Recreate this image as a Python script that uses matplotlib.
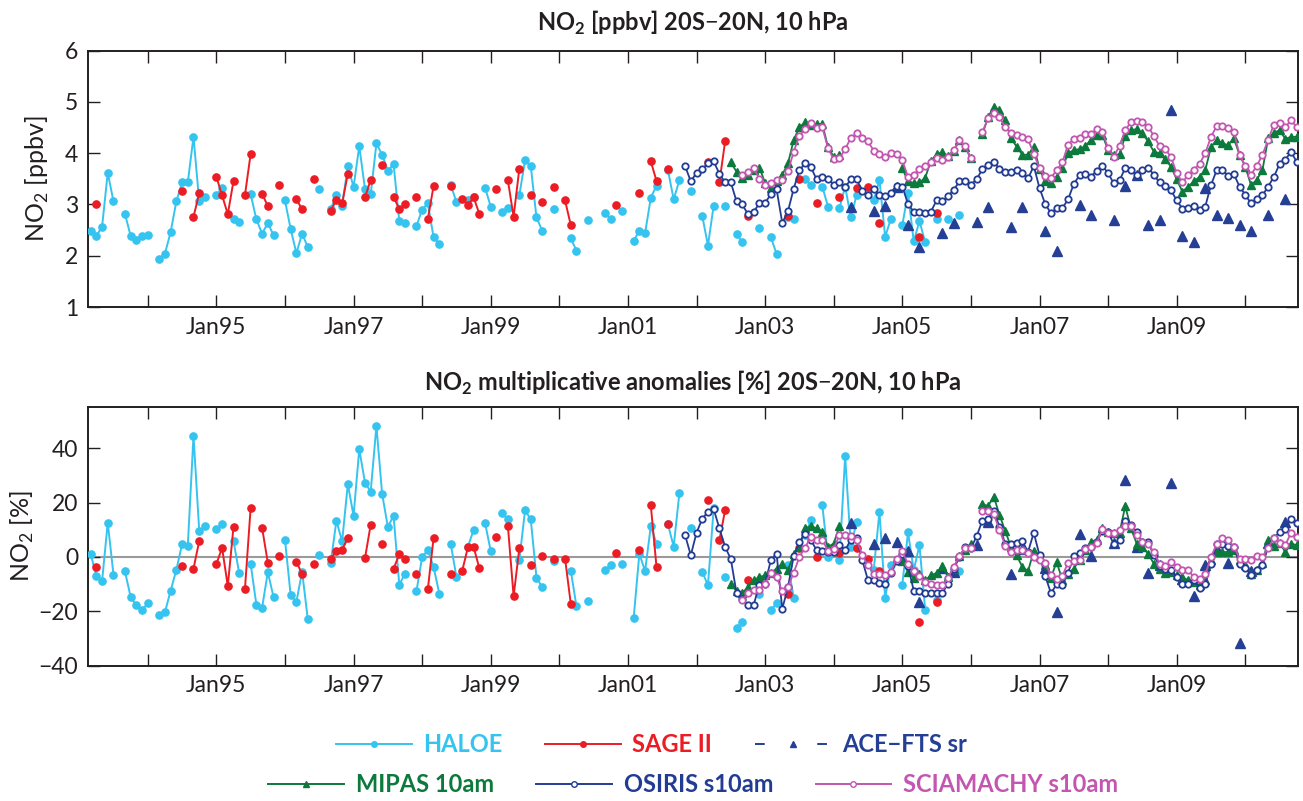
import numpy as np
import matplotlib
matplotlib.use("Agg")
import matplotlib.pyplot as plt
from matplotlib.lines import Line2D

nan = np.nan

# months are counted from Jan 1993 (0 = Jan93)
haloe_months = [2, 3, 4, 5, 6, 8, 9, 10, 11, 12,
                14, 15, 16, 17, 18, 19, 20, 21, 22, 24,
                25, 27, 28, 30, 31, 32, 33, 34, 36, 37,
                38, 39, 40, 42, 44, 45, 46, 47, 48, 49,
                50, 51, 52, 53, 54, 55, 56, 57, 59, 60,
                61, 62, 63, 65, 66, 68, 69, 71, 72, 74,
                75, 77, 78, 79, 80, 81, 83, 86, 87, 89,
                92, 93, 95, 97, 98, 99, 100, 101, 103, 104,
                105, 107, 109, 110, 111, 113, 115, 116, 119, 121,
                122, 124, 125, 127, 128, 130, 131, 133, 134, 135,
                136, 139, 140, 141, 142, 144, 145, 146, 147, 148,
                150, 152, 154]
haloe_ppbv = [2.49, 2.39, 2.56, 3.62, 3.06, 2.82, 2.39, 2.30, 2.38, 2.40,
              1.93, 2.04, 2.46, 3.06, 3.43, 3.43, 4.32, 3.06, 3.14, 3.18,
              3.33, 2.72, 2.65, 3.20, 2.71, 2.43, 2.64, 2.40, 3.08, 2.52,
              2.05, 2.43, 2.17, 3.30, 2.91, 3.18, 2.98, 3.75, 3.34, 4.14,
              3.30, 3.20, 4.19, 3.97, 3.66, 3.79, 2.68, 2.63, 2.58, 2.90,
              3.02, 2.36, 2.23, 3.39, 3.04, 3.09, 3.15, 3.33, 2.96, 2.86,
              2.93, 3.18, 3.86, 3.75, 2.75, 2.49, 2.91, 2.34, 2.10, 2.69,
              2.84, 2.71, 2.88, 2.29, 2.49, 2.44, 3.13, 3.37, 3.67, 3.10,
              3.47, 3.27, 2.78, 2.20, 2.98, 2.97, 2.43, 2.26, 2.55, 2.36,
              2.04, 2.75, 2.72, 3.49, 3.38, 3.35, 2.96, 2.93, 3.35, 2.75,
              3.18, 3.08, 3.48, 2.37, 2.72, 2.60, 3.22, 2.28, 2.68, 2.26,
              2.72, 2.72, 2.80]
haloe_anom = [1.2, -7.0, -9.0, 12.6, -6.5, -5.2, -14.7, -17.8, -19.7, -17.0,
              -21.5, -20.4, -12.4, -4.8, 4.7, 4.0, 44.5, 9.6, 11.2, 10.1,
              12.2, 5.8, -6.0, -2.6, -17.6, -18.7, -5.6, -14.7, 6.4, -14.1,
              -16.5, -5.4, -23.0, 0.6, -2.3, 13.3, 5.7, 26.8, 15.1, 39.6,
              27.3, 24.0, 48.2, 23.1, 11.1, 15.1, -10.2, -6.1, -12.7, 0.0,
              2.5, -3.7, -13.5, 4.8, -7.4, 3.7, 9.9, 12.6, 2.1, 16.0,
              13.8, -1.2, 17.1, 13.8, -7.6, -11.1, -1.5, -5.0, -18.2, -16.3,
              -4.8, -3.1, -2.5, -22.5, 1.2, -5.2, 11.3, 4.9, 12.0, 3.8,
              23.4, 10.5, -5.5, -10.4, 17.8, -7.4, -26.2, -24.0, -13.5, -19.7,
              -17.0, -3.0, -15.0, 8.0, 13.5, 19.1, 0.0, -1.0, 37.1, 3.7,
              12.9, -4.9, 16.6, -15.1, -3.1, -10.2, 9.0, -4.9, 4.3, -19.4,
              -16.0, -8.0, -5.0]

sage_months = [3, 18, 20, 21, 24, 25, 26, 27, 29, 30,
               32, 33, 35, 38, 39, 41, 44, 45, 46, 47,
               50, 51, 53, 55, 56, 57, 59, 61, 62, 65,
               67, 68, 69, 70, 73, 75, 76, 77, 79, 81,
               83, 85, 86, 94, 98, 100, 101, 103, 110, 112,
               113, 117, 124, 126, 129, 133, 136, 138, 140, 147,
               150]
sage_ppbv = [3.00, 3.27, 2.76, 3.22, 3.54, 3.18, 2.81, 3.46, 3.18, 3.99,
             3.21, 2.97, 3.39, 3.10, 2.91, 3.49, 2.88, 3.09, 3.02, 3.60,
             3.14, 3.48, 3.77, 3.15, 2.91, 3.01, 3.15, 2.72, 3.36, 3.36,
             3.11, 2.99, 3.14, 2.82, 3.31, 3.47, 2.76, 3.70, 3.19, 3.04,
             3.35, 3.08, 2.60, 2.99, 3.22, 3.84, 3.46, 3.69, 3.83, 3.43,
             4.23, 2.77, 2.78, 3.49, 3.02, 3.14, 3.32, 3.35, 2.63, 2.36,
             2.83]
sage_anom = [-3.7, -3.3, -4.3, 5.8, -2.6, 3.3, -10.7, 11.1, -11.8, 18.1,
             10.7, -2.1, 0.2, -1.7, -6.4, -2.7, -0.7, 2.1, 2.6, 7.0,
             -0.5, 11.9, 4.6, -4.3, 0.9, -0.6, -6.3, -11.8, 7.0, -6.3,
             -5.2, 3.5, 3.7, -4.1, 7.3, 11.3, -14.4, 3.1, -2.8, 0.5,
             -0.6, -0.6, -17.2, 1.6, 2.6, 19.0, -3.7, 12.1, 21.0, 6.1,
             17.2, -8.6, -13.5, 3.1, -0.2, 1.5, 3.1, -0.6, -5.0, -24.0,
             -16.4]

ace_months = [135, 139, 141, 143, 145, 147, 151, 153, 157, 159, 163,
              165, 169, 171, 175, 177, 181, 183, 185, 187, 189,
              191, 193, 195, 197, 199, 201, 203, 205, 208, 211]
ace_ppbv = [2.96, 2.88, 2.97, 3.35, 2.60, 2.18, 2.44, 2.63, 2.65, 2.96, 2.57,
            2.96, 2.49, 2.10, 2.99, 2.80, 2.70, 3.36, 3.58, 2.60, 2.70,
            4.84, 2.39, 2.26, 3.32, 2.80, 2.73, 2.60, 2.49, 2.80, 3.10]
ace_anom = [12.6, 4.6, 7.0, 5.3, 2.1, -16.6, -4.0, -5.5, 4.3, 12.9, -6.4,
            3.0, -4.0, -20.3, 8.4, 0.3, 5.0, 28.1, 3.7, -5.9, -3.0,
            27.3, -8.0, -14.4, -3.1, 3.0, -2.2, -31.7, -5.0, 5.0, 12.9]

# monthly series, first month given, nan = no data
mipas_start = 114
mipas_ppbv = [3.82, 3.64, 3.52, 3.58, 3.68, 3.72, 3.42, 3.33, 3.45, 3.58,
              3.80, 4.26, 4.51, 4.60, 4.56, 4.57, 4.57, 4.12, 3.93, 3.96,
              nan, nan, nan, nan, nan, nan, nan, nan, nan, nan,
              3.71, 3.45, 3.42, 3.43, 3.52, 3.85, 3.98, 4.02, 3.95, 4.05,
              4.25, 4.12, 3.90, nan, 4.37, 4.70, 4.91, 4.84, 4.65, 4.29,
              4.13, 3.97, 3.97, 4.12, 3.70, 3.45, 3.41, 3.54, 3.71, 4.00,
              4.06, 4.08, 4.14, 4.26, 4.36, 4.36, 4.06, 3.97, 3.98, 4.34,
              4.45, 4.47, 4.39, 4.23, 4.03, 4.00, 3.88, 3.74, 3.49, 3.25,
              3.35, 3.45, 3.54, 3.67, 4.12, 4.26, 4.19, 4.16, 4.29, 3.97,
              3.74, 3.38, 3.48, 3.67, 4.29, 4.40, 4.45, 4.28, 4.32, 4.32]
mipas_anom = [-9.8, -12.7, -13.3, -11.1, -8.6, -7.4, -6.8, -5.8, -4.3, -2.5,
              -4.9, 1.0, 3.7, 10.5, 11.3, 10.5, 9.2, 3.7, 4.9, 11.3,
              nan, nan, nan, nan, nan, nan, nan, nan, nan, nan,
              -1.5, -5.5, -7.7, -6.1, -8.6, -6.8, -5.9, -3.4, -7.4, -4.3,
              0.3, 2.7, 4.9, nan, 19.4, 18.7, 22.2, 15.4, 9.6, 3.7,
              0.6, -3.7, -5.2, 2.2, 0.0, -3.1, -7.6, -1.8, -8.6, -6.1,
              -4.3, -1.0, 2.5, 5.5, 6.4, 10.5, 9.2, 8.9, 8.9, 18.7,
              10.5, 4.9, 3.7, 1.2, -2.5, -4.3, -5.9, -5.5, -6.8, -7.4,
              -8.6, -9.2, -10.4, -8.6, -1.0, 1.8, 1.8, 1.8, 2.7, -1.2,
              -3.1, -6.1, -4.9, -2.2, 6.2, 4.0, 5.2, 1.8, 4.9, 4.3]

osiris_start = 106
osiris_ppbv = [3.75, 3.45, 3.62, 3.70, 3.80, 3.84, 3.60, 3.43, 3.43, 3.06,
               3.00, 2.81, 2.86, 3.02, 3.03, 3.20, 3.30, 2.64, 2.87, 3.31,
               3.67, 3.80, 3.73, 3.49, 3.54, 3.50, 3.39, 3.44, 3.34, 3.49,
               3.49, 3.27, 3.18, 3.30, 3.18, 3.17, 3.23, 3.37, 3.35, 3.01,
               2.86, 2.86, 2.84, 2.86, 3.08, 3.06, 3.16, 3.29, 3.45, 3.45,
               3.39, 3.49, 3.69, 3.78, 3.82, 3.70, 3.64, 3.64, 3.67, 3.61,
               3.51, 3.75, 3.32, 3.01, 2.83, 2.93, 2.93, 3.10, 3.40, 3.57,
               3.60, 3.54, 3.66, 3.76, 3.61, 3.41, 3.47, 3.71, 3.67, 3.58,
               3.68, 3.72, 3.58, 3.43, 3.36, 3.28, 3.08, 2.92, 2.94, 2.98,
               2.90, 2.96, 3.38, 3.67, 3.67, 3.56, 3.59, 3.35, 3.19, 3.02,
               3.10, 3.18, 3.35, 3.54, 3.79, 3.87, 4.03, 3.83]
osiris_anom = [8.0, 0.6, 8.9, 14.0, 16.6, 17.6, 10.5, 3.7, -0.8, -13.3,
               -15.4, -17.6, -17.6, -10.2, -9.8, -1.2, 1.2, -19.1, -11.1, 0.3,
               5.6, 8.4, 6.2, 2.5, 2.1, 1.9, 1.9, 4.3, 2.4, 6.4,
               6.8, -1.2, -8.6, -8.4, -9.5, -9.8, -5.9, -1.5, 1.0, -3.4,
               -12.4, -12.4, -13.3, -13.3, -13.3, -13.3, -9.8, -4.3, 0.0, 3.7,
               3.1, 7.6, 13.3, 14.1, 16.9, 11.1, 4.9, 4.7, 5.2, 5.7,
               1.9, 8.9, 0.6, -7.0, -13.3, -10.1, -10.4, -5.9, 0.4, 1.5,
               3.1, 3.7, 5.3, 9.6, 9.0, 4.7, 6.4, 13.3, 11.8, 9.2,
               5.5, 5.5, 0.6, -3.4, -4.3, -4.7, -7.4, -9.8, -9.8, -8.6,
               -11.4, -10.1, -2.5, 4.7, 4.7, 4.1, 3.7, -2.5, -4.1, -6.5,
               -4.7, -3.1, 3.7, 7.1, 9.0, 10.2, 14.1, 12.3]

scia_start = 116
scia_ppbv = [3.57, 3.63, 3.71, 3.50, 3.39, 3.41, 3.47, 3.47, 3.65, 4.03,
             4.34, 4.47, 4.58, 4.50, 4.51, 4.10, 3.88, 3.90, 4.08, 4.30,
             4.39, 4.30, 4.23, 4.05, 3.98, 3.92, 4.01, 3.99, 3.86, 3.54,
             3.58, 3.69, 3.76, 3.83, 3.90, 3.87, 3.93, 4.06, 4.25, 4.14,
             3.90, nan, 4.41, 4.68, 4.79, 4.70, 4.51, 4.40, 4.36, 4.32,
             4.27, 3.99, 3.71, 3.55, 3.52, 3.67, 3.82, 4.17, 4.28, 4.29,
             4.37, 4.38, 4.47, 4.41, 4.10, 3.93, 4.15, 4.45, 4.61, 4.63,
             4.60, 4.52, 4.34, 4.14, 4.08, 3.93, 3.61, 3.43, 3.58, 3.68,
             3.79, 4.00, 4.32, 4.53, 4.53, 4.50, 4.41, 3.97, 3.75, 3.58,
             3.75, 3.97, 4.26, 4.56, 4.58, 4.51, 4.64, 4.51]
scia_anom = [-16.0, -13.3, -12.0, -12.3, -9.8, -5.8, -7.4, -12.7, -11.1, -5.8,
             0.0, 3.4, 7.4, 6.4, 6.4, 2.1, 3.0, 8.0, 8.0, 7.8,
             6.4, 0.6, -3.1, -6.1, -6.4, -6.8, -5.5, -0.6, 2.1, -2.7,
             -5.2, -7.1, -9.2, -10.1, -10.2, -10.4, -7.7, -3.7, 0.4, 3.3,
             3.1, nan, 16.9, 16.9, 15.6, 10.0, 4.1, 1.9, 2.7, 2.7,
             1.5, 0.0, -1.2, -2.2, -6.8, -8.2, -7.0, -2.1, -1.5, -1.2,
             2.8, 3.7, 5.2, 10.2, 8.9, 8.9, 10.0, 11.3, 11.3, 8.0,
             5.5, 4.7, 1.8, -2.5, -3.3, -2.0, -3.7, -4.9, -4.9, -7.4,
             -8.2, -6.4, 0.0, 4.7, 6.8, 6.4, 3.7, -0.6, -0.8, -1.0,
             0.3, 0.0, 3.1, 7.1, 5.2, 4.3, 8.9, 7.4]

tick_years = list(range(1994, 2011))
tick_labels = ["Jan%02d" % (y % 100) if y % 2 == 1 else "" for y in tick_years]

C_HALOE = "#35C3EF"
C_SAGE = "#EC1C24"
C_ACE = "#243F93"
C_MIPAS = "#0C7A3C"
C_OSIRIS = "#223C94"
C_SCIA = "#C256B0"
C_TEXT = "#231F20"

plt.rcParams["font.family"] = ["Lato", "DejaVu Sans"]
plt.rcParams["mathtext.fontset"] = "custom"
plt.rcParams["mathtext.rm"] = "Lato"
plt.rcParams["mathtext.bf"] = "Lato:bold"


def to_year(m):
    return 1993 + np.asarray(m, dtype=float) / 12.0


def on_grid(months, vals):
    # put sparse points on a monthly grid so lines break at missing months
    grid = np.arange(min(months), max(months) + 1)
    out = np.full(len(grid), np.nan)
    out[np.asarray(months) - grid[0]] = vals
    return to_year(grid), out


def run(start, vals):
    return to_year(np.arange(start, start + len(vals))), np.asarray(vals, float)


def draw(ax, which):
    h = haloe_ppbv if which == 0 else haloe_anom
    s = sage_ppbv if which == 0 else sage_anom
    a = ace_ppbv if which == 0 else ace_anom
    mi = mipas_ppbv if which == 0 else mipas_anom
    os_ = osiris_ppbv if which == 0 else osiris_anom
    sc = scia_ppbv if which == 0 else scia_anom

    x, y = on_grid(haloe_months, h)
    ax.plot(x, y, "-o", color=C_HALOE, lw=1.4, ms=5.2, zorder=3)
    x, y = on_grid(sage_months, s)
    ax.plot(x, y, "-o", color=C_SAGE, lw=1.4, ms=5.2, zorder=3)
    x, y = on_grid(ace_months, a)
    ax.plot(x, y, "--^", color=C_ACE, lw=1.2, ms=6.5, zorder=4)
    x, y = run(mipas_start, mi)
    ax.plot(x, y, "-^", color=C_MIPAS, lw=1.3, ms=5.8, zorder=4)
    x, y = run(osiris_start, os_)
    ax.plot(x, y, "-o", color=C_OSIRIS, lw=1.3, ms=4.6, mfc="white",
            mec=C_OSIRIS, mew=1.3, zorder=5)
    x, y = run(scia_start, sc)
    ax.plot(x, y, "-o", color=C_SCIA, lw=1.3, ms=4.6, mfc="white",
            mec=C_SCIA, mew=1.3, zorder=6)

    ax.set_xlim(1993.128, 2010.773)
    ax.set_xticks(tick_years)
    ax.set_xticklabels(tick_labels)
    ax.tick_params(direction="in", length=8.5, width=1.0, top=True, right=True,
                   labelsize=16.5, colors=C_TEXT, pad=7)
    for sp in ax.spines.values():
        sp.set_linewidth(1.4)
        sp.set_color(C_TEXT)


fig = plt.figure(figsize=(13.03, 8.01), dpi=100)
ax1 = fig.add_axes([0.0675, 0.6167, 0.9289, 0.3200])
ax2 = fig.add_axes([0.0675, 0.1689, 0.9289, 0.3226])

draw(ax1, 0)
ax1.set_ylim(1, 6)
ax1.set_yticks([1, 2, 3, 4, 5, 6])
ax1.set_ylabel("NO$_2$ [ppbv]", fontsize=18, color=C_TEXT, labelpad=10)
ax1.set_title(r"NO$_\mathbf{2}$ [ppbv] 20S$-$20N, 10 hPa", fontsize=17,
              fontweight="bold", color=C_TEXT, pad=14)

ax2.axhline(0, color="#9a9a9a", lw=1.5, zorder=1)
draw(ax2, 1)
ax2.set_ylim(-40, 55)
ax2.set_yticks([-40, -20, 0, 20, 40])
ax2.set_yticklabels(["\u221240", "\u221220", "0", "20", "40"])
ax2.set_ylabel("NO$_2$ [%]", fontsize=18, color=C_TEXT, labelpad=2)
ax2.set_title(r"NO$_\mathbf{2}$ multiplicative anomalies [%] 20S$-$20N, 10 hPa",
              fontsize=17, fontweight="bold", color=C_TEXT, pad=12)

# legend, two rows
row1 = [Line2D([], [], color=C_HALOE, marker="o", lw=1.4, ms=4),
        Line2D([], [], color=C_SAGE, marker="o", lw=1.4, ms=4),
        Line2D([], [], color=C_ACE, marker="^", lw=1.4, ms=5, ls="--",
               dashes=(5, 27))]
row1_txt = ["HALOE", "SAGE II", "ACE\u2212FTS sr"]
row2 = [Line2D([], [], color=C_MIPAS, marker="^", lw=1.4, ms=5),
        Line2D([], [], color=C_OSIRIS, marker="o", lw=1.4, ms=4, mfc="white"),
        Line2D([], [], color=C_SCIA, marker="o", lw=1.4, ms=4, mfc="white")]
row2_txt = ["MIPAS 10am", "OSIRIS s10am", "SCIAMACHY s10am"]

for hs, ts, yy, xx in [(row1, row1_txt, 0.070, 0.50), (row2, row2_txt, 0.020, 0.532)]:
    leg = fig.legend(hs, ts, loc="center", bbox_to_anchor=(xx, yy), ncol=3,
                     frameon=False, handlelength=3.2,
                     handletextpad=0.5, columnspacing=1.8, numpoints=1,
                     prop={"weight": "bold", "size": 17})
    for t, h in zip(leg.get_texts(), hs):
        t.set_color(h.get_color())

fig.savefig("out.png", dpi=100)
